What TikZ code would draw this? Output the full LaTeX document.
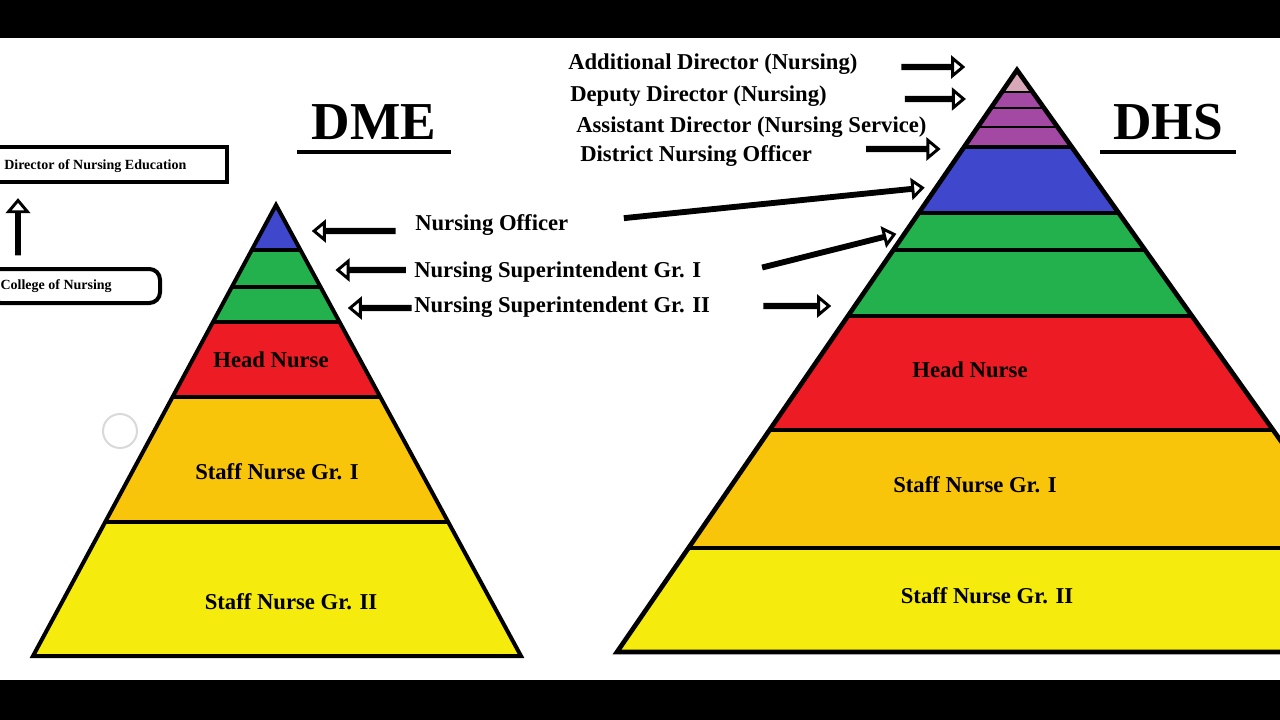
\documentclass[tikz,border=0pt]{standalone}
\usepackage{fontspec}
\setmainfont{Liberation Serif}
\usetikzlibrary{shapes.arrows}
\definecolor{pblue}{HTML}{3F48CC}
\definecolor{pgreen}{HTML}{22B14C}
\definecolor{pred}{HTML}{ED1C24}
\definecolor{porange}{HTML}{F9C50A}
\definecolor{pyellow}{HTML}{F5EB0C}
\definecolor{ppurple}{HTML}{A349A4}
\definecolor{ppink}{HTML}{D8A8B8}
\tikzset{
 lbl/.style={font=\fontsize{17}{20}\selectfont\bfseries, inner sep=0pt},
 inlbl/.style={font=\fontsize{17}{20}\selectfont\bfseries, inner sep=0pt},
 ttl/.style={font=\fontsize{40}{44}\selectfont\bfseries, inner sep=0pt},
 blk/.style={single arrow, draw=black, fill=white, line width=2.2pt, single arrow head extend=5pt, minimum width=13pt, inner sep=0pt, single arrow tip angle=80},
 sep/.style={line width=3pt},
}
\begin{document}
\begin{tikzpicture}[x=0.75pt,y=-0.75pt]
\useasboundingbox (0,0) rectangle (1280,720);
\clip (0,0) rectangle (1280,720);
\fill[white] (0,0) rectangle (1280,720);
\fill[black] (0,0) rectangle (1280,38);
\fill[black] (0,680) rectangle (1280,720);
% left pyramid
\begin{scope}
\clip (276,205) -- (33,656) -- (521,656) -- cycle;
\fill[pblue] (0,200) rectangle (600,250);
\fill[pgreen] (0,250) rectangle (600,322);
\fill[pred] (0,322) rectangle (600,397);
\fill[porange] (0,397) rectangle (600,522);
\fill[pyellow] (0,522) rectangle (600,660);
\foreach \y in {250,287,322,397,522} \draw[sep] (0,\y) -- (600,\y);
\end{scope}
\draw[line width=3pt, line join=miter] (276,205) -- (33,656) -- (521,656) -- cycle;
% right pyramid
\begin{scope}
\clip (1017,70) -- (617,652) -- (1431,652) -- cycle;
\fill[ppink] (600,60) rectangle (1300,92);
\fill[ppurple] (600,92) rectangle (1300,147);
\fill[pblue] (600,147) rectangle (1300,213);
\fill[pgreen] (600,213) rectangle (1300,316);
\fill[pred] (600,316) rectangle (1300,430);
\fill[porange] (600,430) rectangle (1300,548);
\fill[pyellow] (600,548) rectangle (1300,660);
\foreach \y in {92,108,127} \draw[line width=2pt] (600,\y) -- (1300,\y);
\foreach \y in {147,213,250,316,430,548} \draw[sep] (600,\y) -- (1300,\y);
\end{scope}
\draw[line width=3.5pt, line join=miter] (1017,70) -- (617,652) -- (1431,652) -- cycle;
% titles
\node[ttl] (dme) at (374,122) {DME};
\draw[line width=3pt] (297,152) -- (451,152);
\node[ttl] (dhs) at (1168,122) {DHS};
\draw[line width=3pt] (1100,152) -- (1236,152);
% boxes
\draw[line width=3pt] (-10,147) rectangle (227,182);
\node[font=\fontsize{10.5}{12}\selectfont\bfseries, anchor=west, inner sep=0pt] (dne) at (4,166) {Director of Nursing Education};
\draw[line width=3pt, rounded corners=8pt] (-10,269) rectangle (160,303);
\node[font=\fontsize{10.5}{12}\selectfont\bfseries, anchor=east, inner sep=0pt] (con) at (112,286) {College of Nursing};
\node[blk, rotate=90, minimum height=40pt, minimum width=14pt, single arrow head extend=6pt] (up) at (18,228) {};
\draw[gray!30, line width=1.5pt] (120,431) circle (17);
% inner labels
\node[inlbl] (hn1) at (271,360) {Head Nurse};
\node[inlbl] (sn1a) at (277,472) {Staff Nurse Gr. I};
\node[inlbl] (sn1b) at (291,602) {Staff Nurse Gr. II};
\node[inlbl] (hn2) at (970,370) {Head Nurse};
\node[inlbl] (sn2a) at (975,485) {Staff Nurse Gr. I};
\node[inlbl] (sn2b) at (987,596) {Staff Nurse Gr. II};
% side labels
\node[lbl, anchor=west] (ad) at (568,64) {Additional Director (Nursing)};
\node[lbl, anchor=west] (dd) at (570,96) {Deputy Director (Nursing)};
\node[lbl, anchor=west] (asd) at (576,127) {Assistant Director (Nursing Service)};
\node[lbl, anchor=west] (dno) at (580,156) {District Nursing Officer};
\node[lbl, anchor=west] (no) at (415,225) {Nursing Officer};
\node[lbl, anchor=west] (ns1) at (414,272) {Nursing Superintendent Gr. I};
\node[lbl, anchor=west] (ns2) at (414,307) {Nursing Superintendent Gr. II};
% arrows left
\node[blk, shape border rotate=180, minimum height=60pt] (a1) at (355,231) {};
\node[blk, shape border rotate=180, minimum height=50pt] (a2) at (372,270) {};
\node[blk, shape border rotate=180, minimum height=45pt] (a3) at (381,308) {};
% arrows right
\node[blk, minimum height=45pt] (b1) at (932,67) {};
\node[blk, minimum height=43pt] (b2) at (934,99) {};
\node[blk, minimum height=53pt] (b3) at (902,149) {};
\node[blk, minimum height=224pt, rotate=5.8, minimum width=12pt] (b4) at (773,203) {};
\node[blk, minimum height=101pt, rotate=14.1, minimum width=12pt] (b5) at (828,251) {};
\node[blk, minimum height=48pt] (b6) at (796,306) {};
\end{tikzpicture}
\end{document}
